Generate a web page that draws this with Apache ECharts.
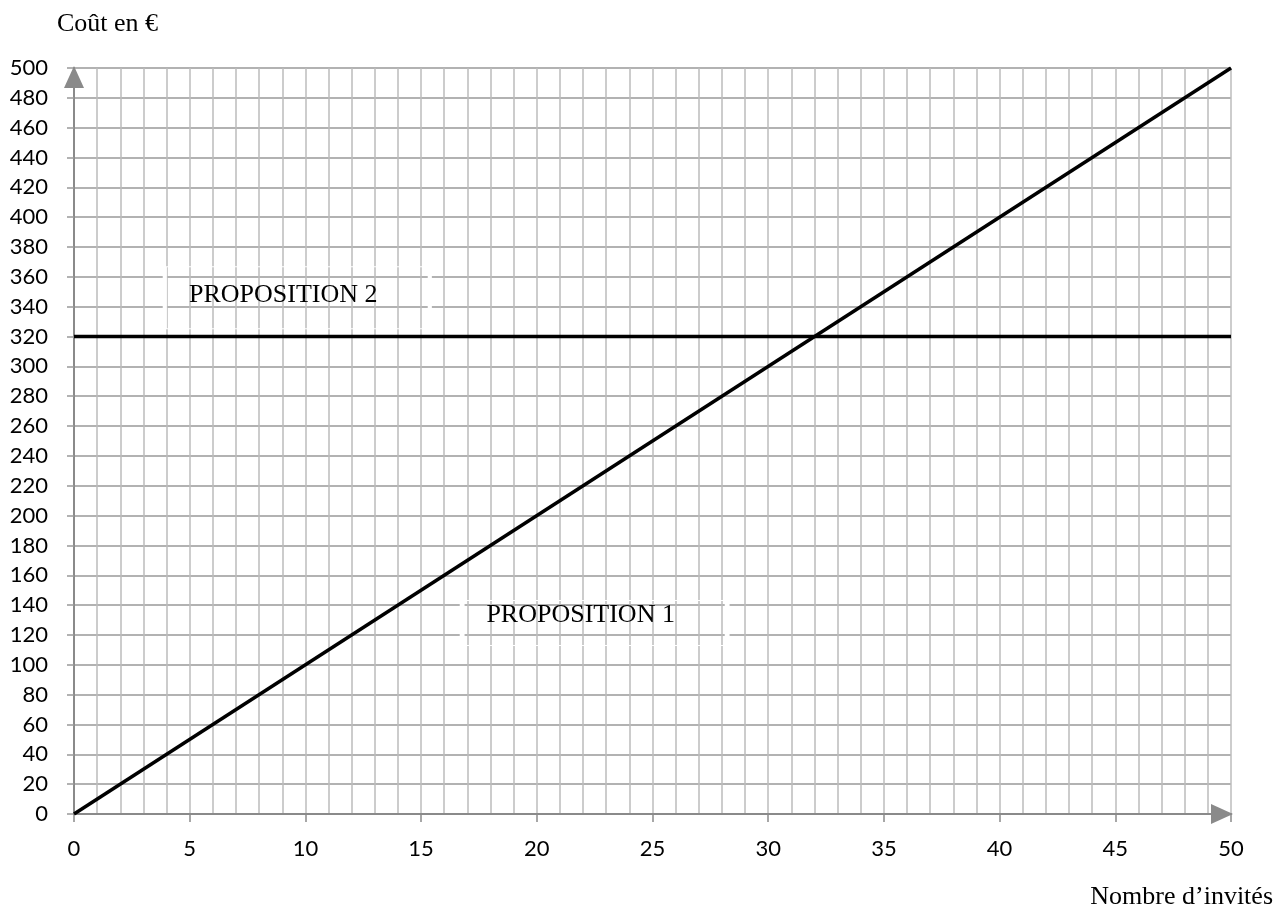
<!DOCTYPE html>
<html>
<head>
<meta charset="utf-8">
<script src="https://cdn.jsdelivr.net/npm/echarts@6/dist/echarts.min.js"></script>
<style>
  html, body { margin: 0; padding: 0; background: #fff; }
  #chart { width: 1284px; height: 914px; }
</style>
</head>
<body>
<div id="chart"></div>
<script>
// données
const guests = [0, 50];
const prop1 = [0, 500];
const prop2 = [320, 320];
const labelP1 = 'PROPOSITION 1';
const labelP2 = 'PROPOSITION 2';

const chart = echarts.init(document.getElementById('chart'));

const serif = '"Liberation Serif", "Times New Roman", serif';
const sans = 'Lato, "Open Sans", sans-serif';
const axisGray = '#8a8a8a';

const boxMark = (name, x, y, w, h, offset) => ({
  name: name,
  coord: [x, y],
  symbol: 'rect',
  symbolSize: [w, h],
  itemStyle: { color: 'rgba(0,0,0,0)', borderColor: '#fff', borderWidth: 2 },
  label: {
    show: true,
    position: 'inside',
    offset: offset,
    formatter: name,
    fontFamily: serif,
    fontSize: 26,
    color: '#000'
  }
});

const option = {
  backgroundColor: '#fff',
  animation: false,
  grid: { left: 74, right: 53, top: 68, bottom: 100 },
  xAxis: {
    type: 'value',
    min: 0,
    max: 50,
    interval: 5,
    axisLine: {
      show: true,
      symbol: ['none', 'triangle'],
      symbolSize: [20, 22],
      symbolOffset: [0, -9],
      lineStyle: { color: axisGray, width: 2 }
    },
    axisTick: { show: true, length: 8, lineStyle: { color: axisGray, width: 1.5 } },
    axisLabel: { margin: 24, fontFamily: sans, fontSize: 22, color: '#000' },
    splitLine: { show: true, lineStyle: { color: '#bcbcbc', width: 1.5 } },
    minorTick: { show: false, splitNumber: 5 },
    minorSplitLine: { show: true, lineStyle: { color: '#bcbcbc', width: 1.5 } }
  },
  yAxis: {
    type: 'value',
    min: 0,
    max: 500,
    interval: 20,
    axisLine: {
      show: true,
      symbol: ['none', 'triangle'],
      symbolSize: [20, 22],
      symbolOffset: [0, -9],
      lineStyle: { color: axisGray, width: 2 }
    },
    axisTick: { show: true, length: 7, lineStyle: { color: '#999', width: 1.5 } },
    axisLabel: { margin: 26, fontFamily: sans, fontSize: 22, color: '#000' },
    splitLine: { show: true, lineStyle: { color: '#999', width: 1.5 } }
  },
  graphic: [
    {
      type: 'text',
      left: 57,
      top: 11,
      style: { text: 'Coût en €', font: '26px ' + serif, fill: '#000' }
    },
    {
      type: 'text',
      right: 11,
      top: 884,
      style: { text: 'Nombre d’invités', font: '26px ' + serif, fill: '#000' }
    }
  ],
  series: [
    {
      name: labelP1,
      type: 'line',
      data: guests.map((g, i) => [g, prop1[i]]),
      symbol: 'none',
      z: 5,
      lineStyle: { color: '#000', width: 3.5 },
      markPoint: {
        silent: true,
        data: [boxMark(labelP1, 22.5, 128, 265, 45, [-14, -8])]
      }
    },
    {
      name: labelP2,
      type: 'line',
      data: guests.map((g, i) => [g, prop2[i]]),
      symbol: 'none',
      z: 5,
      lineStyle: { color: '#000', width: 3.5 },
      markPoint: {
        silent: true,
        data: [boxMark(labelP2, 9.65, 346, 265, 62, [-14, -3])]
      }
    }
  ]
};

chart.setOption(option);
</script>
</body>
</html>
